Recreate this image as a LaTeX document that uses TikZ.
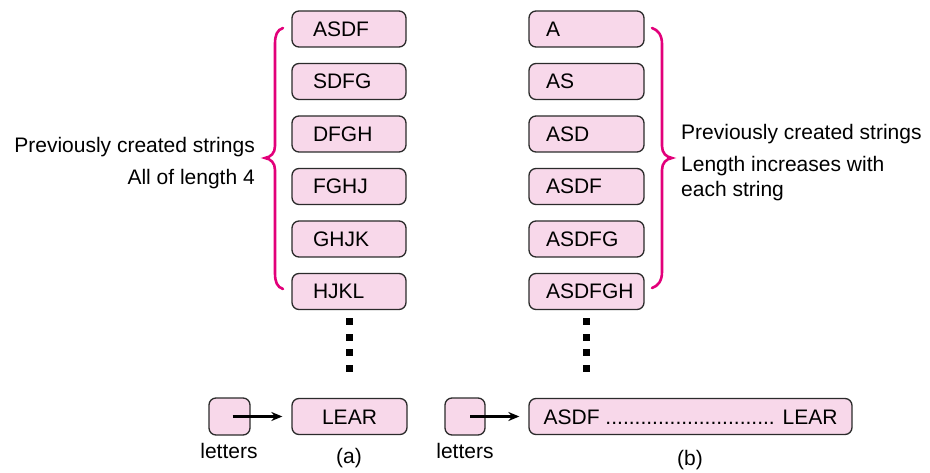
\documentclass[tikz,border=0pt]{standalone}
\usepackage{fontspec}
\setmainfont{Liberation Sans}
\usetikzlibrary{arrows.meta}
\definecolor{boxfill}{HTML}{F8D8EA}
\definecolor{boxline}{HTML}{2B2B2B}
\definecolor{bracecol}{HTML}{E2007A}
\newcommand\fsz{\fontsize{21}{25}\selectfont}
\newcommand\boxtext[3]{\makebox[#1pt][l]{\hspace{#2pt}#3}}
\begin{document}
\begin{tikzpicture}[x=1pt,y=-1pt,
  strbox/.style={draw=boxline, fill=boxfill, rounded corners=7pt, line width=1.3pt,
    inner xsep=0pt, inner ysep=0pt, text height=15pt, text depth=0pt,
    minimum height=36pt, font=\fsz},
  smallbox/.style={draw=boxline, fill=boxfill, rounded corners=7pt, line width=1.3pt,
    inner sep=0pt, minimum width=40pt, minimum height=37pt},
  lbl/.style={font=\fsz, inner sep=0pt},
  arr/.style={line width=2.2pt, -{Stealth[length=11pt,width=9pt]}, shorten >=9pt},
  bracestyle/.style={draw=bracecol, line width=2.6pt, line cap=round}
]
\useasboundingbox (0,0) rectangle (930,473);

% left column (a)
\foreach \t/\y/\n in {ASDF/29/a1, SDFG/81.5/a2, DFGH/134/a3, FGHJ/186.5/a4, GHJK/239/a5, HJKL/291.5/a6}
  \node[strbox] (\n) at (349,\y) {\boxtext{114}{21}{\t}};
\node[strbox, minimum width=115pt] (lear) at (349.5,416.5) {LEAR};

% right column (b)
\foreach \t/\y/\n in {A/29/b1, AS/81.5/b2, ASD/134/b3, ASDF/186.5/b4, ASDFG/239/b5, ASDFGH/291.5/b6}
  \node[strbox] (\n) at (586.5,\y) {\boxtext{115}{17}{\t}};
\node[strbox, minimum width=323pt] (big) at (690.5,416.5) {ASDF ............................. LEAR};

% small "letters" boxes
\node[smallbox, minimum width=41pt] (la) at (229.5,416.5) {};
\node[smallbox] (lb) at (465,416.5) {};

% arrows
\draw[arr] ([xshift=3pt]la.center) -- (lear);
\draw[arr] ([xshift=5pt]lb.center) -- (big);

% vertical dotted ellipses
\foreach \y in {318.5,334.5,349.5,365.5} {
  \fill (345.5,\y) rectangle ++(7,7);
  \fill (583,\y) rectangle ++(7,7);
}

% braces
\draw[bracestyle] (283,28) .. controls (277,30) and (275,35) .. (275,44) -- (275,146)
  .. controls (275,153) and (271,157) .. (265,158)
  .. controls (271,159) and (275,163) .. (275,170) -- (275,273)
  .. controls (275,282) and (277,287) .. (283,289);
\draw[bracestyle] (652,28) .. controls (658,30) and (662,35) .. (662,44) -- (662,146)
  .. controls (662,153) and (666,157) .. (672,158)
  .. controls (666,159) and (662,163) .. (662,170) -- (662,272)
  .. controls (662,281) and (658,286) .. (652,288);

% side texts
\node[lbl, anchor=base east] (tl1) at (255,153) {Previously created strings};
\node[lbl, anchor=base east] (tl2) at (255,185) {All of length 4};
\node[lbl, anchor=base west] (tr1) at (681,140) {Previously created strings};
\node[lbl, anchor=base west] (tr2) at (681,172) {Length increases with};
\node[lbl, anchor=base west] (tr3) at (681,197) {each string};

% bottom labels
\node[lbl, anchor=base] (let1) at (229,458) {letters};
\node[lbl, anchor=base] (let2) at (465,458) {letters};
\node[lbl, anchor=base] (capa) at (349,463) {(a)};
\node[lbl, anchor=base] (capb) at (690,465) {(b)};
\end{tikzpicture}
\end{document}
